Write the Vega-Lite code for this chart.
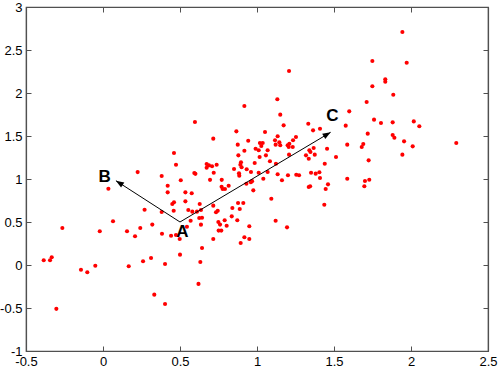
{
  "$schema": "https://vega.github.io/schema/vega-lite/v6.json",
  "width": 462,
  "height": 344,
  "autosize": "none",
  "padding": {"left": 26, "top": 7, "right": 12, "bottom": 20},
  "background": "white",
  "config": {
    "font": "Liberation Sans",
    "view": {"stroke": "#505050", "strokeWidth": 1.2},
    "axis": {
      "grid": false,
      "domainColor": "#505050",
      "domainWidth": 1.2,
      "tickColor": "#505050",
      "tickSize": -5,
      "labelColor": "#000000",
      "labelFontSize": 13,
      "labelFont": "Liberation Sans",
      "title": null
    }
  },
  "datasets": {
    "pts": [
      {"x":0.225,"y":1.08},{"x":0.035,"y":0.887},{"x":0.27,"y":0.643},{"x":-0.264,"y":0.43},{"x":0.065,"y":0.508},
      {"x":-0.021,"y":0.392},{"x":0.156,"y":0.392},{"x":0.242,"y":0.43},{"x":0.208,"y":0.334},{"x":0.32,"y":0.47},
      {"x":-0.385,"y":0.055},{"x":-0.344,"y":0.055},{"x":-0.333,"y":0.09},{"x":-0.143,"y":-0.055},{"x":-0.102,"y":-0.085},
      {"x":-0.05,"y":-0.008},{"x":0.167,"y":-0.015},{"x":0.26,"y":0.043},{"x":0.312,"y":0.081},{"x":0.333,"y":-0.345},
      {"x":-0.303,"y":-0.51},{"x":0.403,"y":-0.453},{"x":0.403,"y":0.012},{"x":0.5,"y":0.12},{"x":0.62,"y":-0.22},
      {"x":0.632,"y":0.035},{"x":0.643,"y":0.198},{"x":0.383,"y":0.364},{"x":0.442,"y":0.34},{"x":0.474,"y":0.349},
      {"x":0.498,"y":0.302},{"x":0.381,"y":0.616},{"x":0.42,"y":0.922},{"x":0.42,"y":0.845},{"x":0.45,"y":0.71},
      {"x":0.461,"y":0.729},{"x":0.459,"y":0.631},{"x":0.535,"y":0.845},{"x":0.576,"y":0.834},{"x":0.535,"y":0.74},
      {"x":0.554,"y":0.64},{"x":0.58,"y":0.62},{"x":0.61,"y":0.62},{"x":0.628,"y":0.71},{"x":0.636,"y":0.64},
      {"x":0.625,"y":0.547},{"x":0.569,"y":0.515},{"x":0.545,"y":0.445},{"x":0.636,"y":0.469},{"x":0.716,"y":0.69},
      {"x":0.734,"y":0.613},{"x":0.745,"y":0.631},{"x":0.749,"y":0.5},{"x":0.76,"y":0.47},{"x":0.768,"y":0.4},
      {"x":0.751,"y":0.4},{"x":0.716,"y":0.302},{"x":0.695,"y":0.99},{"x":0.77,"y":0.91},{"x":0.777,"y":0.884},
      {"x":0.792,"y":0.884},{"x":0.816,"y":0.922},{"x":0.803,"y":0.457},{"x":0.79,"y":0.52},{"x":0.836,"y":0.566},
      {"x":0.84,"y":0.663},{"x":0.877,"y":0.721},{"x":0.888,"y":0.651},{"x":0.911,"y":0.721},{"x":0.872,"y":0.52},
      {"x":0.918,"y":0.322},{"x":0.894,"y":0.256},{"x":0.95,"y":0.302},{"x":0.95,"y":0.45},{"x":0.643,"y":0.55},
      {"x":0.597,"y":1.663},{"x":0.716,"y":1.469},{"x":0.461,"y":1.302},{"x":0.474,"y":1.166},{"x":0.381,"y":1.035},
      {"x":0.505,"y":0.985},{"x":0.593,"y":1.07},{"x":0.6,"y":1.06},{"x":0.673,"y":1.174},{"x":0.688,"y":1.159},
      {"x":0.708,"y":1.148},{"x":0.738,"y":1.166},{"x":0.673,"y":1.131},{"x":0.719,"y":1.073},{"x":0.771,"y":0.99},
      {"x":0.866,"y":1.554},{"x":0.875,"y":1.399},{"x":0.879,"y":1.275},{"x":0.892,"y":1.166},{"x":0.896,"y":1.194},
      {"x":0.918,"y":1.329},{"x":0.883,"y":1.066},{"x":0.885,"y":1.039},{"x":0.9,"y":1.136},{"x":0.851,"y":1.116},
      {"x":0.933,"y":1.113},{"x":0.918,"y":1.849},{"x":0.943,"y":1.445},{"x":0.931,"y":0.945},{"x":0.96,"y":0.962},
      {"x":0.968,"y":0.975},
      {"x":1.944,"y":2.709},{"x":1.749,"y":2.372},{"x":1.972,"y":2.352},{"x":1.833,"y":2.159},{"x":1.833,"y":2.131},
      {"x":1.749,"y":2.078},{"x":1.885,"y":1.98},{"x":1.712,"y":1.895},{"x":1.599,"y":1.787},{"x":1.76,"y":1.69},
      {"x":1.805,"y":1.651},{"x":1.881,"y":1.659},{"x":2.018,"y":1.67},{"x":2.054,"y":1.613},{"x":1.576,"y":1.62},
      {"x":1.719,"y":1.527},{"x":1.881,"y":1.512},{"x":1.892,"y":1.48},{"x":1.955,"y":1.438},{"x":2.011,"y":1.38},
      {"x":2.294,"y":1.419},{"x":1.944,"y":1.283},{"x":1.69,"y":1.407},{"x":1.68,"y":1.372},{"x":1.586,"y":1.399},
      {"x":1.725,"y":1.217},{"x":1.513,"y":1.256},{"x":1.455,"y":1.352},{"x":1.44,"y":1.178},{"x":1.586,"y":1.003},
      {"x":1.701,"y":0.977},{"x":1.729,"y":0.992},{"x":1.697,"y":0.915},{"x":1.461,"y":0.938},{"x":1.208,"y":2.256},
      {"x":1.132,"y":1.927},{"x":1.151,"y":1.748},{"x":1.173,"y":1.624},{"x":1.333,"y":1.643},{"x":1.409,"y":1.585},
      {"x":1.364,"y":1.566},{"x":1.052,"y":1.547},{"x":1.134,"y":1.497},{"x":1.253,"y":1.488},{"x":1.234,"y":1.45},
      {"x":1.117,"y":1.45},{"x":1.145,"y":1.427},{"x":1.037,"y":1.419},{"x":1.019,"y":1.419},{"x":1.028,"y":1.384},
      {"x":0.991,"y":1.352},{"x":1.011,"y":1.334},{"x":1.069,"y":1.334},{"x":1.121,"y":1.399},{"x":1.151,"y":1.392},
      {"x":1.199,"y":1.392},{"x":1.21,"y":1.41},{"x":1.232,"y":1.372},{"x":1.206,"y":1.372},{"x":1.368,"y":1.36},
      {"x":1.34,"y":1.334},{"x":1.347,"y":1.314},{"x":1.375,"y":1.283},{"x":1.318,"y":1.275},{"x":1.336,"y":1.236},
      {"x":1.208,"y":1.283},{"x":1.058,"y":1.275},{"x":1.017,"y":1.256},{"x":1.084,"y":1.206},{"x":1.123,"y":1.178},
      {"x":0.985,"y":1.186},{"x":0.961,"y":1.081},{"x":1.011,"y":1.073},{"x":1.069,"y":1.081},{"x":1.134,"y":1.055},
      {"x":1.201,"y":1.043},{"x":1.255,"y":1.05},{"x":1.273,"y":1.043},{"x":1.351,"y":1.073},{"x":1.381,"y":1.062},
      {"x":1.405,"y":1.078},{"x":1.409,"y":1.012},{"x":1.041,"y":1.003},{"x":1.162,"y":0.985},{"x":1.336,"y":0.907},
      {"x":1.345,"y":0.915},{"x":1.446,"y":0.884},{"x":0.976,"y":0.868},{"x":1.093,"y":0.771},{"x":1.121,"y":0.515},
      {"x":1.195,"y":0.438},{"x":1.437,"y":0.701}
    ],
    "arrows": [
      {"name":"B","x0":0.5,"y0":0.5,"x1":0.084,"y1":0.98},
      {"name":"C","x0":0.5,"y0":0.5,"x1":1.478,"y1":1.543}
    ],
    "labels": [
      {"label":"A","x":0.515,"y":0.38},
      {"label":"B","x":0.01,"y":1.023},
      {"label":"C","x":1.489,"y":1.729}
    ]
  },
  "resolve": {"axis": {"x": "independent", "y": "independent"}},
  "layer": [
    {
      "data": {"name": "pts"},
      "mark": {"type": "point", "filled": true, "shape": "circle", "size": 17, "color": "#ff0000", "opacity": 1},
      "encoding": {
        "x": {"field": "x", "type": "quantitative",
          "scale": {"domain": [-0.5, 2.5], "nice": false, "zero": false},
          "axis": {"orient": "bottom", "values": [-0.5,0,0.5,1,1.5,2,2.5], "labelExpr": "'' + datum.value", "labelPadding": 9, "labelFlush": false}},
        "y": {"field": "y", "type": "quantitative",
          "scale": {"domain": [-1, 3], "nice": false, "zero": false},
          "axis": {"orient": "left", "values": [-1,-0.5,0,0.5,1,1.5,2,2.5,3], "labelExpr": "'' + datum.value", "labelPadding": 9, "labelFlush": false}}
      }
    },
    {
      "data": {"name": "arrows"},
      "mark": {"type": "rule", "color": "#000000", "strokeWidth": 1},
      "encoding": {
        "x": {"field": "x0", "type": "quantitative", "scale": {"domain": [-0.5, 2.5], "nice": false, "zero": false},
          "axis": {"orient": "top", "values": [-0.5,0,0.5,1,1.5,2,2.5], "labels": false}},
        "y": {"field": "y0", "type": "quantitative", "scale": {"domain": [-1, 3], "nice": false, "zero": false},
          "axis": {"orient": "right", "values": [-1,-0.5,0,0.5,1,1.5,2,2.5,3], "labels": false}},
        "x2": {"field": "x1"},
        "y2": {"field": "y1"}
      }
    },
    {
      "data": {"name": "arrows"},
      "transform": [{"filter": "datum.name === 'B'"}],
      "mark": {"type": "point", "filled": true, "color": "#000000", "opacity": 1, "size": 256, "angle": 302.5, "shape": "M0,0L-0.38,1L0.38,1Z"},
      "encoding": {
        "x": {"field": "x1", "type": "quantitative", "axis": null},
        "y": {"field": "y1", "type": "quantitative", "axis": null}
      }
    },
    {
      "data": {"name": "arrows"},
      "transform": [{"filter": "datum.name === 'C'"}],
      "mark": {"type": "point", "filled": true, "color": "#000000", "opacity": 1, "size": 256, "angle": 59.3, "shape": "M0,0L-0.38,1L0.38,1Z"},
      "encoding": {
        "x": {"field": "x1", "type": "quantitative", "axis": null},
        "y": {"field": "y1", "type": "quantitative", "axis": null}
      }
    },
    {
      "data": {"name": "labels"},
      "mark": {"type": "text", "font": "Liberation Sans", "fontWeight": "bold", "fontSize": 17, "color": "#000000", "align": "center", "baseline": "middle"},
      "encoding": {
        "x": {"field": "x", "type": "quantitative", "axis": null},
        "y": {"field": "y", "type": "quantitative", "axis": null},
        "text": {"field": "label"}
      }
    }
  ]
}
